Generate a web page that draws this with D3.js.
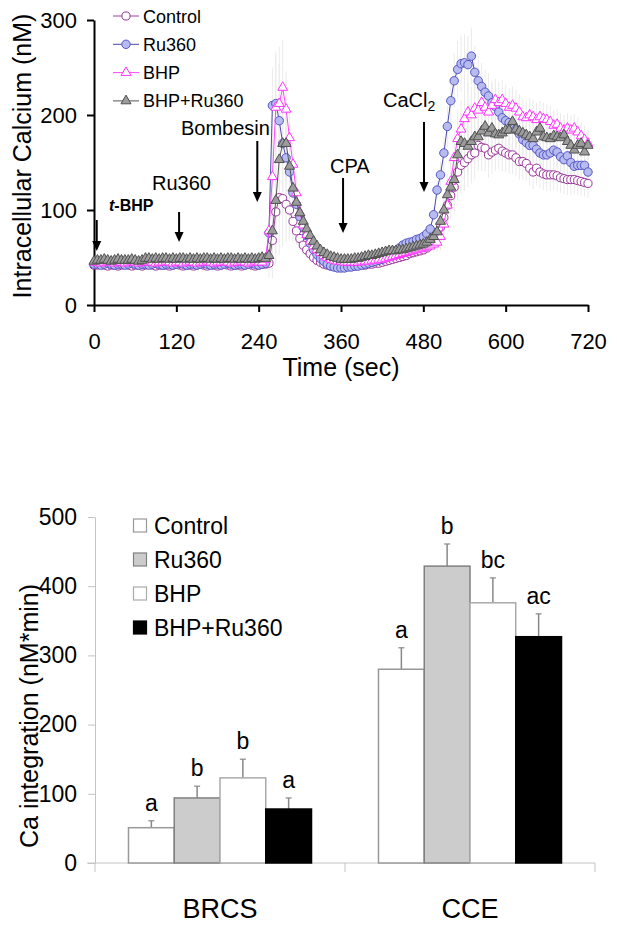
<!DOCTYPE html>
<html><head><meta charset="utf-8">
<script src="https://cdn.jsdelivr.net/npm/d3@7"></script>
<style>
body{margin:0;background:#fff}
svg{display:block}
text{font-family:"Liberation Sans",Arial,sans-serif;fill:#000}
</style>
</head><body>
<svg id="c" width="617" height="929"></svg>
<script>
// ---------- DATA: time course (sampled every 5 s, 0..720 s) ----------
const times = d3.range(0, 721, 5);
const seriesNames = ["Control", "Ru360", "BHP", "BHP+Ru360"];
const control = [
 42,42,43,42,41,42,42,41,42,43, 42,41,42,42,41,42,43,42,41,42,
 42,42,41,42,43,42,41,42,42,41, 42,43,42,41,42,42,41,42,43,42,
 41,42,42,41,42,43,42,41,42,43, 43,44,68,98,113,112,106,100,88,78,
 70,63,58,54,50,47,45,43,42,41, 41,40,40,40,41,41,41,42,42,42,
 43,43,44,44,45,46,47,48,49,50, 51,52,54,55,56,57,58,60,63,66,
 72,82,92,105,115,124,140,147,150,154, 158,160,168,166,165,158,161,163,165,162,
 160,158,158,155,151,151,149,144,140,144, 140,138,137,137,137,136,134,133,132,132,
 132,131,130,129,128];
const ru360 = [
 43,43,42,43,44,43,42,43,43,42, 43,44,43,42,43,43,42,43,44,43,
 42,43,43,42,43,44,43,42,43,43, 42,43,44,43,42,43,43,42,43,44,
 43,42,43,43,42,43,44,43,42,43, 44,76,210,212,194,170,155,140,118,106,
 93,82,73,65,58,53,49,46,43,41, 40,39,39,39,40,40,41,41,42,43,
 44,45,46,47,48,50,52,54,57,60, 63,65,66,67,69,70,72,75,80,95,
 121,137,160,188,215,236,248,254,255,253, 262,245,236,230,224,220,213,209,203,197,
 194,192,189,185,180,174,171,168,168,164, 160,158,158,160,163,161,156,153,157,150,
 146,147,147,147,140];
const bhp = [
 45,45,44,45,46,45,44,45,45,44, 45,46,45,44,45,45,46,45,44,45,
 45,46,45,44,45,45,44,45,46,45, 44,45,45,46,45,44,45,45,46,45,
 44,45,45,46,45,44,45,46,45,45, 48,78,135,208,212,229,206,176,148,118,
 97,84,74,67,62,58,55,52,50,48, 47,46,46,45,45,45,45,45,46,46,
 46,47,47,48,48,49,50,51,52,53, 54,55,56,57,58,59,60,61,62,64,
 66,72,85,105,130,155,175,185,196,203, 200,207,205,213,208,203,210,216,213,216,
 212,208,210,207,203,198,197,200,198,195, 198,196,195,193,189,190,186,184,186,184,
 186,182,178,174,170];
const bhpRu360 = [
 46,47,47,48,47,46,47,48,47,47, 47,48,47,46,47,49,49,48,49,48,
 49,49,48,49,48,49,49,48,49,48, 49,48,49,49,48,49,48,49,48,49,
 49,48,49,48,49,48,49,48,49,50, 49,52,78,110,153,170,170,146,123,108,
 97,88,80,73,67,62,58,55,53,51, 50,49,48,48,48,48,49,49,50,51,
 52,52,53,54,55,56,57,57,57,58, 58,59,60,61,62,63,64,66,69,72,
 77,88,100,116,124,132,158,172,170,167, 172,177,177,183,188,181,186,180,179,181,
 184,184,193,185,183,181,179,177,175,182, 186,177,176,175,178,177,176,179,172,168,
 163,168,170,161,168];
const sem = [
 3,3,3,3,3,3,3,3,3,3, 3,3,3,3,3,3,3,3,3,3,
 3,3,3,3,3,3,3,3,3,3, 3,3,3,3,3,3,3,3,3,3,
 3,3,3,3,3,3,3,3,3,3, 4,15,40,55,60,50,40,30,22,15,
 12,10,8,6,5,4,4,3,3,3, 3,3,3,3,3,3,3,3,3,3,
 3,3,3,3,3,3,3,4,4,4, 4,4,4,4,5,5,5,5,6,8,
 10,14,18,22,25,28,30,30,30,30, 30,28,26,25,24,24,23,22,22,21,
 20,20,20,19,19,19,18,18,18,18, 17,17,17,17,16,16,16,16,16,16,
 15,15,15,15,15];
const xTicksTop = [0, 120, 240, 360, 480, 600, 720];
const yTicksTop = [0, 100, 200, 300];
const arrowTimes = [4, 124, 238, 363, 481];
const arrowLabels = ["t-BHP", "Ru360", "Bombesin", "CPA", "CaCl2"];

// ---------- DATA: bar chart ----------
const categories = ["BRCS", "CCE"];
const controlBar = [51, 280];
const ru360Bar = [94, 429];
const bhpBar = [123, 376];
const bhpRu360Bar = [78, 327];
const controlErr = [10, 31];
const ru360Err = [17, 32];
const bhpErr = [27, 36];
const bhpRu360Err = [16, 33];
const controlLetters = ["a", "a"];
const ru360Letters = ["b", "b"];
const bhpLetters = ["b", "bc"];
const bhpRu360Letters = ["a", "ac"];
const yTicksBottom = [0, 100, 200, 300, 400, 500];

// ---------- TOP CHART ----------
const svg = d3.select("#c");
const x = d3.scaleLinear().domain([0, 720]).range([94, 588]);
const y = d3.scaleLinear().domain([0, 300]).range([305, 20]);
const gTop = svg.append("g");

const lineStyles = [
  {stroke: "#993399", fill: "#ffffff", line: "#a040a0", sym: d3.symbolCircle, size: 52},
  {stroke: "#5656c4", fill: "#b6bbf0", line: "#4848a8", sym: d3.symbolCircle, size: 56},
  {stroke: "#ff33ff", fill: "#ffffff", line: "#ff44ff", sym: d3.symbolTriangle, size: 42},
  {stroke: "#505050", fill: "#9c9c9c", line: "#555555", sym: d3.symbolTriangle, size: 44}
];
const seriesVals = [control, ru360, bhp, bhpRu360];

// faint error bars
const gErr = gTop.append("g");
seriesVals.forEach(vals => {
  gErr.append("g").selectAll("line").data(vals).join("line")
    .attr("x1", (d, i) => x(times[i])).attr("x2", (d, i) => x(times[i]))
    .attr("y1", (d, i) => y(d + sem[i])).attr("y2", (d, i) => y(Math.max(0, d - sem[i])))
    .attr("stroke", "#ebebeb").attr("stroke-width", 1);
});

// axes
const yAx = gTop.append("g").attr("transform", "translate(94,0)")
  .call(d3.axisLeft(y).tickValues(yTicksTop).tickSize(7).tickSizeOuter(0).tickPadding(10));
const xAx = gTop.append("g").attr("transform", "translate(0,305)")
  .call(d3.axisBottom(x).tickValues(xTicksTop).tickSize(7).tickSizeOuter(0).tickPadding(21));
[yAx, xAx].forEach(a => {
  a.select(".domain").attr("stroke", "#000").attr("stroke-width", 2);
  a.selectAll(".tick line").attr("stroke", "#000").attr("stroke-width", 2);
  a.selectAll(".tick text").attr("font-size", 22).style("font-size", "22px");
});

// series lines + markers
seriesVals.forEach((vals, si) => {
  const st = lineStyles[si];
  const line = d3.line().x((d, i) => x(times[i])).y(d => y(d));
  gTop.append("path").datum(vals).attr("d", line)
    .attr("fill", "none").attr("stroke", st.line).attr("stroke-width", 1);
  gTop.append("g").selectAll("path").data(vals).join("path")
    .attr("d", d3.symbol().type(st.sym).size(st.size))
    .attr("transform", (d, i) => `translate(${x(times[i])},${y(d)})`)
    .attr("fill", st.fill).attr("stroke", st.stroke).attr("stroke-width", 1);
});

// axis titles
gTop.append("text").attr("x", 341).attr("y", 376).attr("text-anchor", "middle")
  .style("font-size", "25px").text("Time (sec)");
gTop.append("text").attr("transform", "translate(31,156) rotate(-90)").attr("text-anchor", "middle")
  .style("font-size", "25px").text("Intracellular Calcium (nM)");

// legend (top)
const legTop = gTop.append("g");
seriesNames.forEach((n, i) => {
  const st = lineStyles[i];
  const yy = 16 + i * 28.3;
  legTop.append("line").attr("x1", 113).attr("x2", 139).attr("y1", yy).attr("y2", yy)
    .attr("stroke", st.line).attr("stroke-width", 1);
  legTop.append("path").attr("d", d3.symbol().type(st.sym).size(st.size)())
    .attr("transform", `translate(126,${yy})`)
    .attr("fill", st.fill).attr("stroke", st.stroke);
  legTop.append("text").attr("x", 143).attr("y", yy + 6.5).style("font-size", "18px").text(n);
});

// arrows & annotations
const arrowTop = [220, 212, 141, 178, 122];
const arrowBot = [251, 242, 202, 233, 192];
const labelPos = [[109, 211], [152, 190], [181, 135], [330, 173], [383, 107]];
arrowTimes.forEach((t, i) => {
  const ax = x(t);
  gTop.append("line").attr("x1", ax).attr("x2", ax).attr("y1", arrowTop[i]).attr("y2", arrowBot[i] - 8)
    .attr("stroke", "#000").attr("stroke-width", 2);
  gTop.append("path")
    .attr("d", `M${ax - 4.5},${arrowBot[i] - 10}L${ax + 4.5},${arrowBot[i] - 10}L${ax},${arrowBot[i]}Z`)
    .attr("fill", "#000");
  const lab = arrowLabels[i];
  const tx = gTop.append("text").attr("x", labelPos[i][0]).attr("y", labelPos[i][1]);
  if (lab === "t-BHP") {
    tx.style("font-size", "16px").style("font-weight", "bold");
    tx.append("tspan").style("font-style", "italic").text("t");
    tx.append("tspan").text("-BHP");
  } else if (lab === "CaCl2") {
    tx.style("font-size", "20px");
    tx.append("tspan").text("CaCl");
    tx.append("tspan").attr("dy", 4).style("font-size", "14px").text("2");
  } else {
    tx.style("font-size", "20px").text(lab);
  }
});

// ---------- BOTTOM CHART ----------
const gB = svg.append("g");
const x0 = d3.scaleBand().domain(categories).range([95, 595]);
const x1 = d3.scaleBand().domain(seriesNames).range([0, x0.bandwidth()]).paddingOuter(0.732);
const yb = d3.scaleLinear().domain([0, 500]).range([863, 517]);

const ybAx = gB.append("g").attr("transform", "translate(95,0)")
  .call(d3.axisLeft(yb).tickValues(yTicksBottom).tickSize(7).tickSizeOuter(0).tickPadding(11));
ybAx.select(".domain").attr("stroke", "#c4c4c4").attr("stroke-width", 1);
ybAx.selectAll(".tick line").attr("stroke", "#c4c4c4");
ybAx.selectAll(".tick text").style("font-size", "23px");

// category axis
gB.append("line").attr("x1", 87).attr("x2", x0.range()[1]).attr("y1", yb(0)).attr("y2", yb(0))
  .attr("stroke", "#c4c4c4").attr("stroke-width", 1);
const bounds = categories.map(c => x0(c)).concat([x0.range()[1]]);
gB.selectAll(".cb").data(bounds).join("line")
  .attr("x1", d => d).attr("x2", d => d).attr("y1", yb(0)).attr("y2", yb(0) + 9)
  .attr("stroke", "#c4c4c4");
gB.selectAll(".cl").data(categories).join("text")
  .attr("x", d => x0(d) + x0.bandwidth() / 2).attr("y", 918).attr("text-anchor", "middle")
  .style("font-size", "27px").text(d => d);

const barVals = [controlBar, ru360Bar, bhpBar, bhpRu360Bar];
const barErrs = [controlErr, ru360Err, bhpErr, bhpRu360Err];
const barLetters = [controlLetters, ru360Letters, bhpLetters, bhpRu360Letters];
const barFill = ["#ffffff", "#cccccc", "#ffffff", "#000000"];
const barStroke = ["#999999", "#808080", "#aaaaaa", "#000000"];

seriesNames.forEach((n, si) => {
  categories.forEach((c, ci) => {
    const v = barVals[si][ci], e = barErrs[si][ci];
    const bx = x0(c) + x1(n), bw = x1.bandwidth(), cx = bx + bw / 2;
    gB.append("line").attr("x1", cx).attr("x2", cx).attr("y1", yb(v)).attr("y2", yb(v + e))
      .attr("stroke", "#888").attr("stroke-width", 1.5);
    gB.append("line").attr("x1", cx - 3).attr("x2", cx + 3).attr("y1", yb(v + e)).attr("y2", yb(v + e))
      .attr("stroke", "#888").attr("stroke-width", 1.2);
    gB.append("rect").attr("x", bx).attr("y", yb(v)).attr("width", bw).attr("height", yb(0) - yb(v))
      .attr("fill", barFill[si]).attr("stroke", barStroke[si]).attr("stroke-width", 1.5);
    gB.append("text").attr("x", cx).attr("y", yb(v + e) - 10).attr("text-anchor", "middle")
      .style("font-size", "23px").text(barLetters[si][ci]);
  });
});

// y title
gB.append("text").attr("transform", "translate(38,716) rotate(-90)").attr("text-anchor", "middle")
  .style("font-size", "25px").text("Ca integration (nM*min)");

// legend (bottom)
seriesNames.forEach((n, i) => {
  const yy = 526 + i * 34;
  gB.append("rect").attr("x", 133.5).attr("y", yy - 7).attr("width", 13).attr("height", 13)
    .attr("fill", barFill[i]).attr("stroke", barStroke[i]).attr("stroke-width", 1.2);
  gB.append("text").attr("x", 154).attr("y", yy + 8).style("font-size", "23px").text(n);
});
</script>
</body></html>
